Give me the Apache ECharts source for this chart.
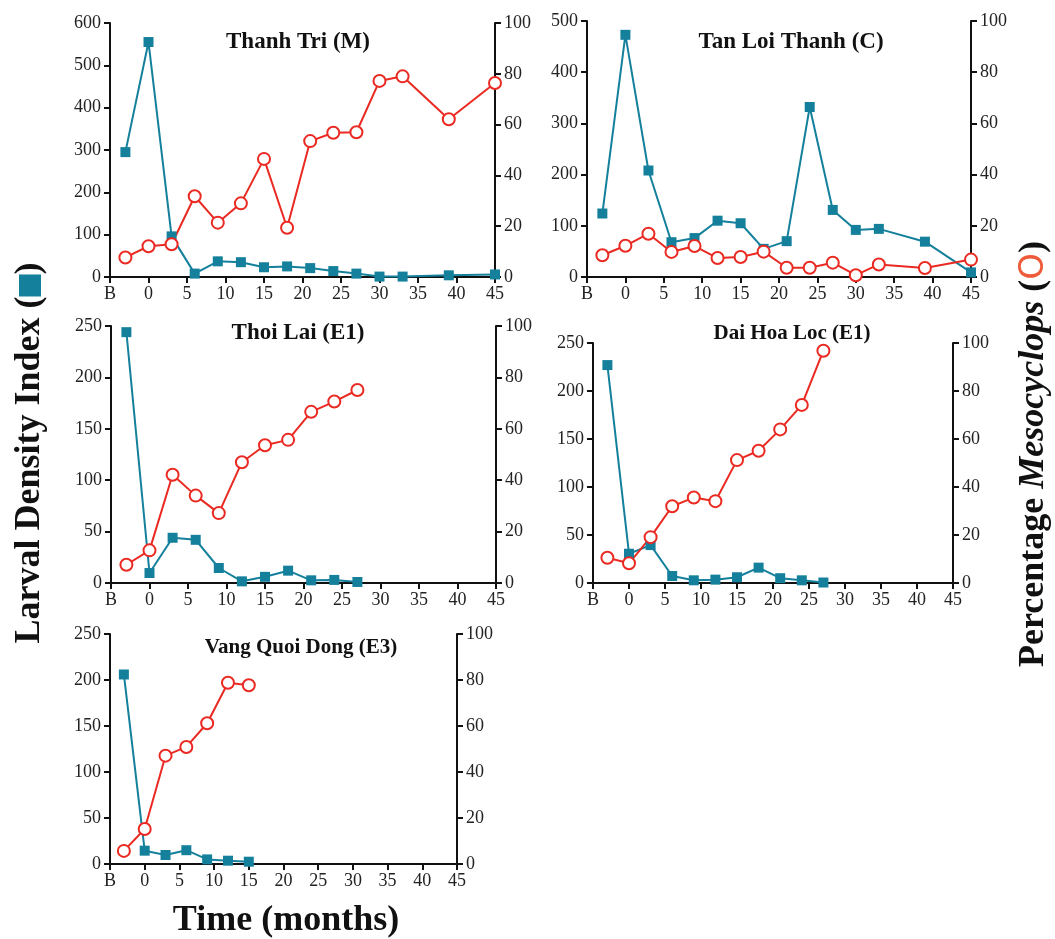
<!DOCTYPE html>
<html>
<head>
<meta charset="utf-8">
<script src="https://cdn.jsdelivr.net/npm/echarts@6/dist/echarts.min.js"></script>
<style>
  html, body { margin: 0; padding: 0; background: #fff; }
  #main { width: 1055px; height: 939px; }
</style>
</head>
<body>
<div id="main"></div>
<script>
// B = baseline, drawn at month -3
var monthsLong = [-3, 0, 3, 6, 9, 12, 15, 18, 21, 24, 27, 30, 33, 39, 45];
var monthsMid = [-3, 0, 3, 6, 9, 12, 15, 18, 21, 24, 27];
var monthsShort = [-3, 0, 3, 6, 9, 12, 15];

var siteNames = ['Thanh Tri (M)', 'Tan Loi Thanh (C)', 'Thoi Lai (E1)', 'Dai Hoa Loc (E1)', 'Vang Quoi Dong (E3)'];

// larval density index (left axis)
var larvaThanhTri = [295, 555, 96, 8, 37, 35, 23, 25, 21, 14, 8, 1, 1, 4, 6];
var larvaTanLoi = [124, 473, 208, 68, 76, 110, 105, 55, 70, 332, 131, 92, 94, 69, 9];
var larvaThoiLai = [244, 9.7, 44, 42, 14.6, 1.6, 6, 12, 2.6, 3, 1];
var larvaDaiHoa = [227, 30.5, 39.5, 7.3, 2.8, 3.5, 6, 16, 5, 2.8, 0.5];
var larvaVangQuoi = [206, 14.5, 9.8, 15, 5, 3.6, 2.5];

// percentage Mesocyclops (right axis)
var mesoThanhTri = [7.7, 12.1, 12.9, 31.8, 21.4, 29, 46.5, 19.4, 53.5, 56.8, 57, 77.2, 79, 62.1, 76.4];
var mesoTanLoi = [8.5, 12.2, 16.9, 9.8, 12.1, 7.4, 7.8, 9.9, 3.6, 3.6, 5.6, 0.7, 4.9, 3.5, 6.8];
var mesoThoiLai = [7.1, 12.7, 42.1, 34, 27.2, 47, 53.6, 55.7, 66.6, 70.6, 75.1];
var mesoDaiHoa = [10.5, 8.2, 19.1, 32, 35.6, 34.1, 51.2, 55.1, 64, 74.2, 96.8];
var mesoVangQuoi = [5.7, 15.2, 47.1, 50.9, 61.2, 78.8, 77.7];

var leftMax = [600, 500, 250, 250, 250];
var leftStep = [100, 100, 50, 50, 50];

var TEAL = '#14809c';
var RED = '#ea2a22';
var FONT = '"Liberation Serif", "DejaVu Serif", serif';

var panels = [
  { months: monthsLong, larva: larvaThanhTri, meso: mesoThanhTri, box: [110, 23, 385, 254], title: [293, 26, 23] },
  { months: monthsLong, larva: larvaTanLoi, meso: mesoTanLoi, box: [587, 21, 384, 256], title: [786, 26, 23] },
  { months: monthsMid, larva: larvaThoiLai, meso: mesoThoiLai, box: [111, 326, 385, 257], title: [293, 317, 23] },
  { months: monthsMid, larva: larvaDaiHoa, meso: mesoDaiHoa, box: [593, 343, 360, 240], title: [787, 318, 21] },
  { months: monthsShort, larva: larvaVangQuoi, meso: mesoVangQuoi, box: [110, 634, 347, 230], title: [296, 632, 21] }
];

function zip(xs, ys) {
  var out = [];
  for (var i = 0; i < xs.length; i++) out.push([xs[i], ys[i]]);
  return out;
}

var axisLine = { show: true, onZero: false, lineStyle: { color: '#111', width: 2 } };
var axisTick = { show: true, length: 6, lineStyle: { color: '#111', width: 2 } };
var axisLabel = { color: '#222', fontSize: 18, fontFamily: FONT, margin: 9 };

var grids = [], xAxes = [], yAxes = [], series = [], titles = [];

panels.forEach(function (p, i) {
  grids.push({ left: p.box[0], top: p.box[1], width: p.box[2], height: p.box[3] });
  titles.push({
    text: siteNames[i],
    left: p.title[0],
    top: p.title[1],
    textAlign: 'center',
    textStyle: { fontFamily: FONT, fontWeight: 'bold', fontSize: p.title[2], color: '#111' }
  });
  xAxes.push({
    type: 'value', gridIndex: i, min: -5, max: 45, interval: 5,
    axisLine: axisLine, axisTick: axisTick, splitLine: { show: false },
    axisLabel: Object.assign({}, axisLabel, {
      margin: 8,
      formatter: function (v) { return v === -5 ? 'B' : v; }
    })
  });
  yAxes.push({
    type: 'value', gridIndex: i, position: 'left', min: 0, max: leftMax[i], interval: leftStep[i],
    axisLine: axisLine, axisTick: axisTick, splitLine: { show: false }, axisLabel: axisLabel
  });
  yAxes.push({
    type: 'value', gridIndex: i, position: 'right', min: 0, max: 100, interval: 20,
    axisLine: axisLine, axisTick: axisTick, splitLine: { show: false }, axisLabel: axisLabel
  });
  series.push({
    type: 'line', xAxisIndex: i, yAxisIndex: 2 * i,
    data: zip(p.months, p.larva),
    symbol: 'rect', symbolSize: 10,
    lineStyle: { color: TEAL, width: 2 },
    itemStyle: { color: TEAL },
    animation: false
  });
  series.push({
    type: 'line', xAxisIndex: i, yAxisIndex: 2 * i + 1,
    data: zip(p.months, p.meso),
    symbol: 'emptyCircle', symbolSize: 12,
    lineStyle: { color: RED, width: 2 },
    itemStyle: { color: RED, borderWidth: 2 },
    animation: false
  });
});

var myChart = echarts.init(document.getElementById('main'));
myChart.setOption({
  backgroundColor: '#fff',
  animation: false,
  title: titles,
  grid: grids,
  xAxis: xAxes,
  yAxis: yAxes,
  series: series,
  graphic: [
    {
      type: 'text', x: 30, y: 453, rotation: Math.PI / 2,
      style: {
        text: 'Larval Density Index ({sq|})',
        font: 'bold 36px ' + FONT,
        fill: '#111',
        align: 'center', verticalAlign: 'middle',
        rich: { sq: { backgroundColor: TEAL, width: 22, height: 22 } }
      }
    },
    {
      type: 'text', x: 1034, y: 454, rotation: Math.PI / 2,
      style: {
        text: 'Percentage {it|Mesocyclops} ({o|O})',
        font: 'bold 36px ' + FONT,
        fill: '#111',
        align: 'center', verticalAlign: 'middle',
        rich: {
          it: { fontStyle: 'italic', fontWeight: 'bold', fontSize: 36, fontFamily: FONT, fill: '#111' },
          o: { fontWeight: 'normal', fontSize: 34, fontFamily: 'DejaVu Sans', fill: '#ef5a3a' }
        }
      }
    },
    {
      type: 'text', x: 286, y: 921,
      style: {
        text: 'Time (months)',
        font: 'bold 36px ' + FONT,
        fill: '#111',
        align: 'center', verticalAlign: 'middle'
      }
    }
  ]
});
window.addEventListener('resize', function () {
  myChart.resize();
});
</script>
</body>
</html>
